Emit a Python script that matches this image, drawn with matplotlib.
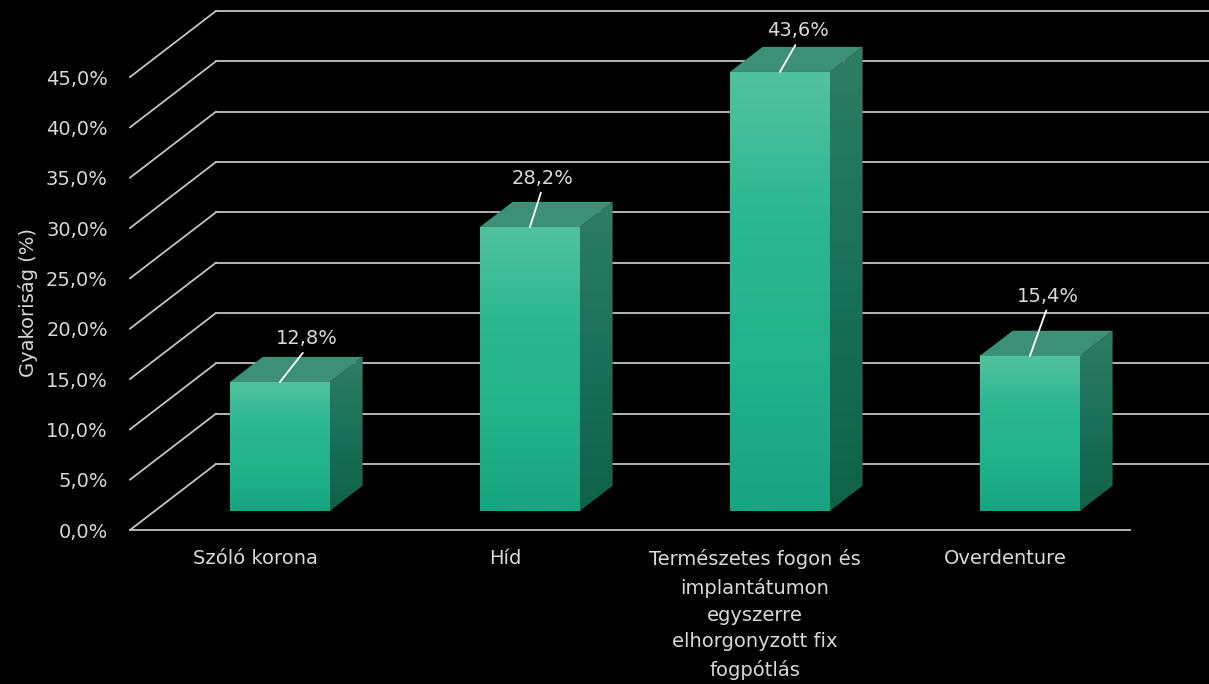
import numpy as np
import matplotlib.pyplot as plt
from matplotlib.colors import LinearSegmentedColormap
from matplotlib.patches import Polygon

# Adatok
kategoriak = ['Szóló korona', 'Híd',
              'Természetes fogon és\nimplantátumon\negyszerre\nelhorgonyzott fix\nfogpótlás',
              'Overdenture']
ertekek = [12.8, 28.2, 43.6, 15.4]
y_tickek = np.arange(0, 50, 5)

# Címke eltolások (pont) a hasáb tetejéhez képest
cimke_dx = [19, 9, 13, 13]
cimke_dy = [31, 35, 29.5, 43]

szoveg_szin = '#d9d9d9'
racs_szin = '#c4c4c4'

# 3D hatás: a padló mélysége és a hasábok mélysége (adategységben)
melyseg_x, melyseg_y = 0.344, 6.56
elol = 0.29      # a hasáb eleje a padló mélységének ennyi részénél
hasab_m = 0.38   # a hasáb mélysége
szel = 0.4

fdx, fdy = elol * melyseg_x, elol * melyseg_y
bdx, bdy = hasab_m * melyseg_x, hasab_m * melyseg_y

elo_cmap = LinearSegmentedColormap.from_list('elo', ['#17a480', '#22b38b', '#2bb790', '#52c29e'])
old_cmap = LinearSegmentedColormap.from_list('old', ['#0e6248', '#1a7058', '#2f7d65'])
teto_szin = '#3c9077'

fig = plt.figure(figsize=(12.09, 6.84), dpi=100, facecolor='black')
ax = fig.add_axes([130 / 1209, 154 / 684, 1079 / 1209, 530 / 684])
ax.set_facecolor('black')

# Háttér rács: fal vízszintes vonalai és a bal oldali átlós vonalak
n = len(kategoriak)
for v in y_tickek:
    ax.plot([-0.5, -0.5 + melyseg_x], [v, v + melyseg_y], color=racs_szin, lw=1.3,
            zorder=1, clip_on=False)
    ax.plot([-0.5 + melyseg_x, n - 0.5 + melyseg_x], [v + melyseg_y, v + melyseg_y],
            color=racs_szin, lw=1.3, zorder=1)
# padló eleje
ax.plot([-0.5, n - 0.5], [0, 0], color=racs_szin, lw=1.3, zorder=1, clip_on=False)

grad = np.linspace(0, 1, 256).reshape(-1, 1)

for i, v in enumerate(ertekek):
    x0 = i - szel / 2 + fdx
    x1 = x0 + szel
    y0 = fdy
    y1 = v + fdy

    # előlap színátmenettel
    ax.imshow(grad, extent=[x0, x1, y0, y1], origin='lower', cmap=elo_cmap,
              aspect='auto', zorder=3, interpolation='bilinear')

    # oldallap
    old = Polygon([(x1, y0), (x1 + bdx, y0 + bdy), (x1 + bdx, y1 + bdy), (x1, y1)],
                  closed=True, facecolor='none', edgecolor='none', zorder=3)
    ax.add_patch(old)
    im = ax.imshow(grad, extent=[x1, x1 + bdx, y0, y1 + bdy], origin='lower', cmap=old_cmap,
                   aspect='auto', zorder=3, interpolation='bilinear')
    im.set_clip_path(old)

    # tetőlap
    ax.add_patch(Polygon([(x0, y1), (x1, y1), (x1 + bdx, y1 + bdy), (x0 + bdx, y1 + bdy)],
                         closed=True, facecolor=teto_szin, edgecolor='none', zorder=3))

    # adatcímke vezetővonallal
    ax.annotate(f'{v:.1f}%'.replace('.', ','), xy=(i + fdx, y1),
                xytext=(cimke_dx[i], cimke_dy[i]), textcoords='offset points',
                ha='center', va='center', fontsize=14, color=szoveg_szin, zorder=5,
                arrowprops=dict(arrowstyle='-', color='white', lw=1.3,
                                shrinkA=1.5, shrinkB=0, relpos=(0.5, 0)))

ax.set_xlim(-0.5, -0.5 + 1079 / 250)
ax.set_ylim(0, 52.65)

ax.set_yticks(y_tickek)
ax.set_yticklabels([f'{t:.1f}%'.replace('.', ',') for t in y_tickek])
ax.set_xticks(range(n))
ax.set_xticklabels(kategoriak)
for lbl in ax.get_xticklabels():
    lbl.set_linespacing(1.52)

ax.tick_params(axis='y', length=0, pad=16, labelsize=14, labelcolor=szoveg_szin)
ax.tick_params(axis='x', length=0, pad=14, labelsize=14, labelcolor=szoveg_szin)

ax.set_ylabel('Gyakoriság (%)', fontsize=14, color=szoveg_szin)
ax.yaxis.set_label_coords(-0.085, 0.43)

for s in ax.spines.values():
    s.set_visible(False)

plt.savefig('out.png', dpi=100, facecolor='black')
